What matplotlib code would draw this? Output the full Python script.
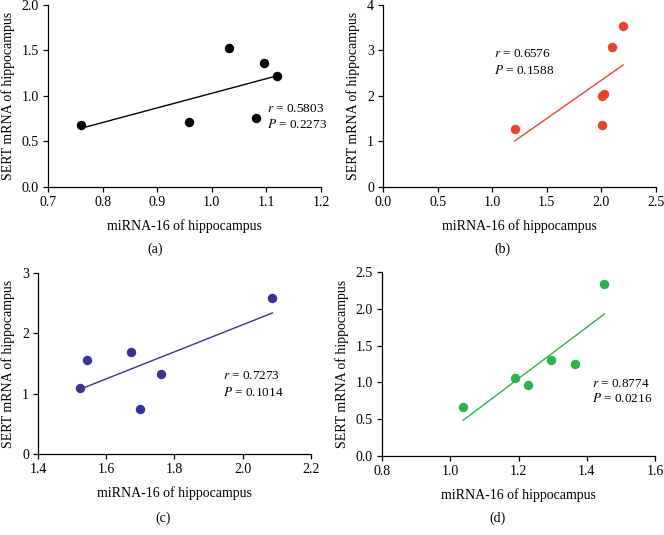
import numpy as np
import matplotlib
matplotlib.use("Agg")
import matplotlib.pyplot as plt
from matplotlib import rcParams

rcParams['font.family'] = 'Liberation Serif'
rcParams['mathtext.fontset'] = 'stix'
rcParams['font.size'] = 10

# Data
a_x = [0.760, 0.959, 1.032, 1.096, 1.119, 1.081]
a_y = [0.681, 0.710, 1.527, 1.359, 1.220, 0.758]
b_x = [1.206, 2.007, 2.007, 2.025, 2.095, 2.199]
b_y = [1.275, 1.370, 1.990, 2.040, 3.084, 3.546]
c_x = [1.523, 1.543, 1.673, 1.759, 1.699, 2.087]
c_y = [1.092, 1.561, 1.693, 1.324, 0.750, 2.587]
d_x = [1.038, 1.190, 1.227, 1.295, 1.365, 1.452]
d_y = [0.664, 1.064, 0.964, 1.300, 1.255, 2.341]

stats = [("0.5803", "0.2273"), ("0.6576", "0.1588"), ("0.7273", "0.1014"), ("0.8774", "0.0216")]
captions = ["(a)", "(b)", "(c)", "(d)"]
colors = ['black', '#E8432A', '#38339A', '#2DB34A']

W, H = 664, 535
fig = plt.figure(figsize=(W / 100, H / 100), dpi=100)

def px_axes(left, right, top, bottom):
    return fig.add_axes([left / W, 1 - bottom / H, (right - left) / W, (bottom - top) / H])

panels = [
    dict(x=a_x, y=a_y, box=(48, 321, 5, 187), xlim=(0.7, 1.2), xt=np.arange(0.7, 1.21, 0.1), xfmt="%.1f",
         ylim=(0, 2.0), yt=[0, 0.5, 1.0, 1.5, 2.0], yfmt="%.1f", txt=(1.101, 0.857, 0.689), cap=(155, 249)),
    dict(x=b_x, y=b_y, box=(383, 656, 5, 187), xlim=(0, 2.5), xt=[0, 0.5, 1.0, 1.5, 2.0, 2.5], xfmt="%.1f",
         ylim=(0, 4), yt=[0, 1, 2, 3, 4], yfmt="%d", txt=(1.02, 2.92, 2.56), cap=(502, 249)),
    dict(x=c_x, y=c_y, box=(38, 311, 273, 454), xlim=(1.4, 2.2), xt=[1.4, 1.6, 1.8, 2.0, 2.2], xfmt="%.1f",
         ylim=(0, 3), yt=[0, 1, 2, 3], yfmt="%d", txt=(1.943, 1.30, 1.015), cap=(163, 518)),
    dict(x=d_x, y=d_y, box=(382, 655, 272, 456), xlim=(0.8, 1.6), xt=[0.8, 1.0, 1.2, 1.4, 1.6], xfmt="%.1f",
         ylim=(0, 2.5), yt=[0, 0.5, 1.0, 1.5, 2.0, 2.5], yfmt="%.1f", txt=(1.416, 0.98, 0.777), cap=(497, 518)),
]

for i, p in enumerate(panels):
    ax = px_axes(*p['box'])
    x = np.array(p['x'])
    y = np.array(p['y'])
    ax.scatter(x, y, s=46, color=colors[i], zorder=3, linewidths=0)
    # least squares line across the data range
    k, b = np.polyfit(x, y, 1)
    xx = np.array([x.min(), x.max()])
    ax.plot(xx, k * xx + b, color=colors[i], lw=1)

    ax.set_xlim(*p['xlim'])
    ax.set_ylim(*p['ylim'])
    ax.set_xticks(p['xt'])
    ax.set_yticks(p['yt'])
    ax.set_xticklabels([p['xfmt'] % v for v in p['xt']])
    ax.set_yticklabels([p['yfmt'] % v for v in p['yt']])
    for s in ['top', 'right']:
        ax.spines[s].set_visible(False)
    for s in ['left', 'bottom']:
        ax.spines[s].set_linewidth(0.9)
    ax.tick_params(direction='out', length=3.5, width=0.9, pad=3)
    ax.set_xlabel("miRNA-16 of hippocampus", labelpad=7)
    ax.set_ylabel("SERT mRNA of hippocampus", labelpad=5)

    tx, ty1, ty2 = p['txt']
    r, pv = stats[i]
    ax.text(tx, ty1, r"$r$ = " + r, ha='left', va='center', fontsize=9.5)
    ax.text(tx, ty2, r"$P$ = " + pv, ha='left', va='center', fontsize=9.5)

    cx, cy = p['cap']
    fig.text(cx / W, 1 - cy / H, captions[i], ha='center', va='center')

fig.savefig("out.png", dpi=100)
